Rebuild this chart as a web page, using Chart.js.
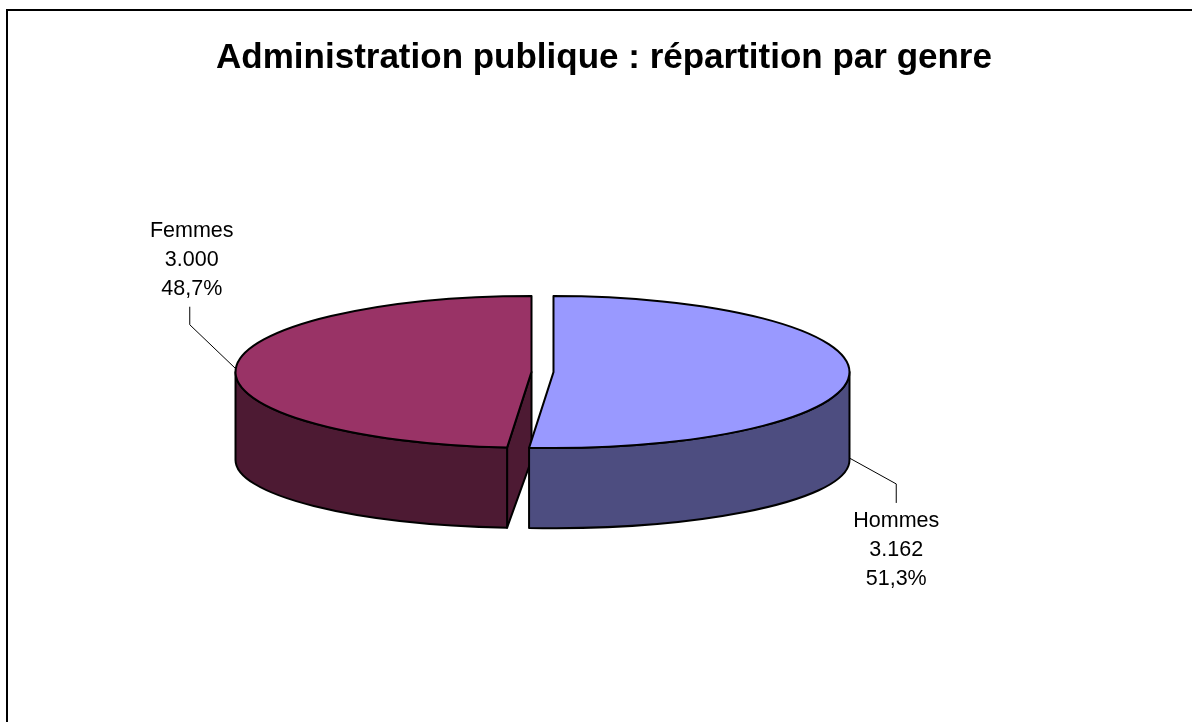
<!DOCTYPE html>
<html lang="fr">
<head>
<meta charset="utf-8">
<title>Administration publique : répartition par genre</title>
<script src="https://cdn.jsdelivr.net/npm/chart.js@4.4.1/dist/chart.umd.min.js"></script>
<style>
  html, body { margin: 0; padding: 0; background: #fff; }
  #wrap { width: 1192px; height: 722px; position: relative; }
</style>
</head>
<body>
<div id="wrap"><canvas id="pieChart"></canvas></div>
<script>
// Effectifs par genre
const genres = ['Hommes', 'Femmes'];
const effectifs = [3162, 3000];
const couleurs = ['#9999FF', '#993366'];
const couleursCote = ['#4D4D80', '#4D1A33'];

const titre = 'Administration publique : répartition par genre';

// Mise en volume du camembert
const aplat = 76 / 296;      // hauteur / largeur de la face supérieure
const aplatFond = 68 / 296;  // idem pour le fond (perspective)
const epaisseur = 88;
const eclatement = 11;

// Lignes de rappel : décalage du coude et longueur de la tige
const reperes = [[47, 26, 19], [-46, -44, -18]];

const nombre = v => String(v).replace(/\B(?=(\d{3})+(?!\d))/g, '.');
const pourcent = v => v.toFixed(1).replace('.', ',') + '%';

const camembert3D = {
  id: 'camembert3D',
  beforeDraw(chart) {
    const ctx = chart.ctx;
    ctx.save();
    ctx.fillStyle = '#fff';
    ctx.fillRect(0, 0, chart.width, chart.height);
    // cadre
    ctx.strokeStyle = '#000';
    ctx.lineWidth = 2;
    ctx.beginPath();
    ctx.moveTo(7, chart.height);
    ctx.lineTo(7, 10);
    ctx.lineTo(chart.width, 10);
    ctx.stroke();
    // titre
    ctx.fillStyle = '#000';
    ctx.font = 'bold 35px "Liberation Sans", Arial, sans-serif';
    ctx.textAlign = 'center';
    ctx.textBaseline = 'alphabetic';
    ctx.fillText(titre, 604, 68);
    ctx.restore();
  },
  beforeDatasetsDraw(chart) {
    const ctx = chart.ctx;
    const arcs = chart.getDatasetMeta(0).data;
    const total = effectifs.reduce((a, b) => a + b, 0);

    const parts = arcs.map((arc, i) => {
      const p = arc.getProps(['x', 'y', 'startAngle', 'endAngle', 'outerRadius']);
      const mid = (p.startAngle + p.endAngle) / 2;
      const cy = p.y + Math.sin(mid) * eclatement * aplat;
      return {
        arc, i, mid,
        x: p.x, y: p.y, startAngle: p.startAngle, endAngle: p.endAngle, outerRadius: p.outerRadius,
        cx: p.x + Math.cos(mid) * eclatement,
        cy,
        rx: p.outerRadius,
        ry: p.outerRadius * aplat,
        by: cy + epaisseur,
        bry: p.outerRadius * aplatFond
      };
    });

    ctx.save();
    ctx.lineWidth = 2;
    ctx.strokeStyle = '#000';
    ctx.lineJoin = 'round';

    // parois radiales visibles
    parts.forEach(s => {
      [[s.startAngle, 1], [s.endAngle, -1]].forEach(([a, sens]) => {
        if (-Math.cos(a) * sens <= 0.01) return;
        const ex = s.cx + s.rx * Math.cos(a);
        ctx.beginPath();
        ctx.moveTo(s.cx, s.cy);
        ctx.lineTo(ex, s.cy + s.ry * Math.sin(a));
        ctx.lineTo(ex, s.by + s.bry * Math.sin(a));
        ctx.lineTo(s.cx, s.by);
        ctx.closePath();
        ctx.fillStyle = couleursCote[s.i];
        ctx.fill();
        ctx.stroke();
      });
    });

    // flancs avant
    parts.forEach(s => {
      const a0 = Math.max(s.startAngle, 0);
      const a1 = Math.min(s.endAngle, Math.PI);
      if (a1 <= a0) return;
      ctx.beginPath();
      ctx.ellipse(s.cx, s.cy, s.rx, s.ry, 0, a0, a1);
      ctx.lineTo(s.cx + s.rx * Math.cos(a1), s.by + s.bry * Math.sin(a1));
      ctx.ellipse(s.cx, s.by, s.rx, s.bry, 0, a1, a0, true);
      ctx.closePath();
      ctx.fillStyle = couleursCote[s.i];
      ctx.fill();
      ctx.stroke();
    });

    // faces supérieures : l'arc de Chart.js, aplati
    parts.forEach(s => {
      ctx.save();
      ctx.translate(s.cx, s.cy);
      ctx.scale(1, aplat);
      ctx.translate(-s.x, -s.y);
      s.arc.draw(ctx);
      ctx.beginPath();
      ctx.moveTo(s.x, s.y);
      ctx.arc(s.x, s.y, s.outerRadius, s.startAngle, s.endAngle);
      ctx.closePath();
      ctx.restore();
      ctx.stroke();
    });

    // étiquettes et lignes de rappel
    ctx.lineWidth = 1;
    ctx.font = '21.5px "Liberation Sans", Arial, sans-serif';
    ctx.textAlign = 'center';
    ctx.textBaseline = 'alphabetic';
    ctx.fillStyle = '#000';
    parts.forEach(s => {
      const devant = Math.sin(s.mid) > 0;
      const ax = s.cx + s.rx * Math.cos(s.mid);
      const ay = devant ? s.by + s.bry * Math.sin(s.mid) - 5 : s.cy + s.ry * Math.sin(s.mid);
      const [dx, dy, tige] = reperes[s.i];
      const kx = ax + dx, ky = ay + dy;
      ctx.beginPath();
      ctx.moveTo(ax, ay);
      ctx.lineTo(kx, ky);
      ctx.lineTo(kx, ky + tige);
      ctx.stroke();

      const v = effectifs[s.i];
      const lignes = [genres[s.i], nombre(v), pourcent(v / total * 100)];
      const fin = ky + tige;
      lignes.forEach((t, j) => {
        const yb = tige < 0
          ? fin - 12 - (lignes.length - 1 - j) * 29
          : fin + 24 + j * 29;
        ctx.fillText(t, kx + (tige < 0 ? 2 : 0), yb);
      });
    });

    ctx.restore();
    return false;
  }
};

new Chart(document.getElementById('pieChart'), {
  type: 'pie',
  data: {
    labels: genres,
    datasets: [{
      data: effectifs,
      backgroundColor: couleurs,
      borderWidth: 0
    }]
  },
  options: {
    responsive: true,
    maintainAspectRatio: false,
    animation: false,
    events: [],
    radius: 296,
    layout: { padding: { left: 0, right: 107, top: 22, bottom: 0 } },
    plugins: {
      legend: { display: false },
      title: { display: false },
      tooltip: { enabled: false }
    }
  },
  plugins: [camembert3D]
});
</script>
</body>
</html>
